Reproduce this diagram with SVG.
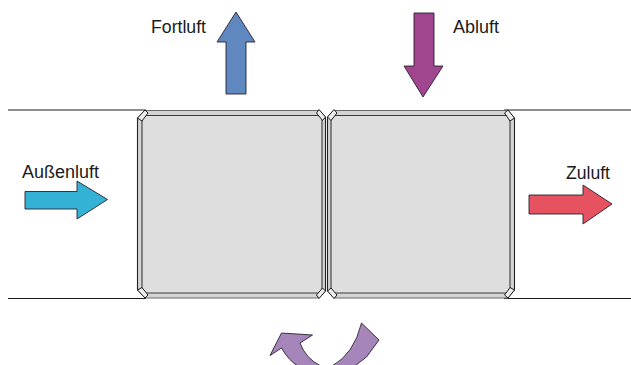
<svg xmlns="http://www.w3.org/2000/svg" width="631" height="365" viewBox="0 0 631 365">
<style>
.duct{stroke:#1a1a1a;stroke-width:1;fill:none}
.frame{fill:#d4d4d4;stroke:#6a6a6a;stroke-width:1}
.side{stroke:#222;stroke-width:1.1;fill:none}
.inner{fill:#dedede;stroke:#3a3a3a;stroke-width:1.1}
.corner{fill:#ececec;stroke:#1a1a1a;stroke-width:1;stroke-linejoin:round}
.arrow{stroke:#2a2030;stroke-width:.9;stroke-linejoin:miter}
text{font-family:"Liberation Sans",Arial,sans-serif;font-size:18px;fill:#1a1a1a}
</style>
<rect width="631" height="365" fill="#fff"/>
<g id="connectors">
<path class="duct" d="M8 110H146M504 110H631M8 298.500H146M504 298.500H631"/>
</g>
<g id="panel-left">
<path class="frame" d="M145 110.500H319L325.500 117V291L319 298H145L137.500 290V118Z"/>
<rect class="inner" x="142" y="115.500" width="180" height="177.500" rx="4"/>
<path class="side" d="M137.500 118V290M325.500 117V291"/>
<path class="corner" d="M137.500 118L145 110L148 113L142 121Z"/>
<path class="corner" d="M319 109.500L325.500 117L322.500 120.500L316.500 113Z"/>
<path class="corner" d="M137.500 290L145 298L148 295L142 287.500Z"/>
<path class="corner" d="M319 298.500L325.500 291L322.500 288L316.500 295Z"/>
</g>
<g id="panel-right">
<path class="frame" d="M334 110.500H508L514.500 118V290L508 298H334L327.500 291V117Z"/>
<rect class="inner" x="331" y="115.500" width="179" height="177.500" rx="4"/>
<path class="side" d="M327.500 117V291M514.500 118V290"/>
<path class="corner" d="M327.500 117L334 109.500L337 113L331 120.500Z"/>
<path class="corner" d="M508 110L514.500 118L510 121L504.500 113Z"/>
<path class="corner" d="M327.500 291L334 298.500L337 295L331 288Z"/>
<path class="corner" d="M508 298L514.500 290L510 287.500L504.500 295Z"/>
</g>
<g id="fortluft">
<path class="arrow" fill="#5f88c0" d="M226 94V42H217L236 12L255 42H246V94Z"/>
<text x="151" y="33" textLength="55" lengthAdjust="spacingAndGlyphs">Fortluft</text>
</g>
<g id="abluft">
<path class="arrow" fill="#a0468f" d="M414 13H434V66H443L423 97L404 66H414Z"/>
<text x="453" y="33" textLength="46" lengthAdjust="spacingAndGlyphs">Abluft</text>
</g>
<g id="aussenluft">
<path class="arrow" fill="#34b2d5" d="M25 191.500H77V181L107.500 199.500L77 219V209H25Z"/>
<text x="22" y="178" textLength="77" lengthAdjust="spacingAndGlyphs">Außenluft</text>
</g>
<g id="zuluft">
<path class="arrow" fill="#e6525f" d="M529 195H583V185L612 204L583 224V214H529Z"/>
<text x="566" y="179" textLength="44" lengthAdjust="spacingAndGlyphs">Zuluft</text>
</g>
<g id="rotation">
<path class="arrow" fill="#a585ba" d="M270 355.500L281.500 333L312.500 335L300 343Q306 359 321 366H298Q289 361 281.500 348Z"/>
<path class="arrow" fill="#a585ba" d="M361.500 323L379 340L366.500 357Q361 361 355 366H332Q354 354 361.500 323Z"/>
</g>
</svg>
